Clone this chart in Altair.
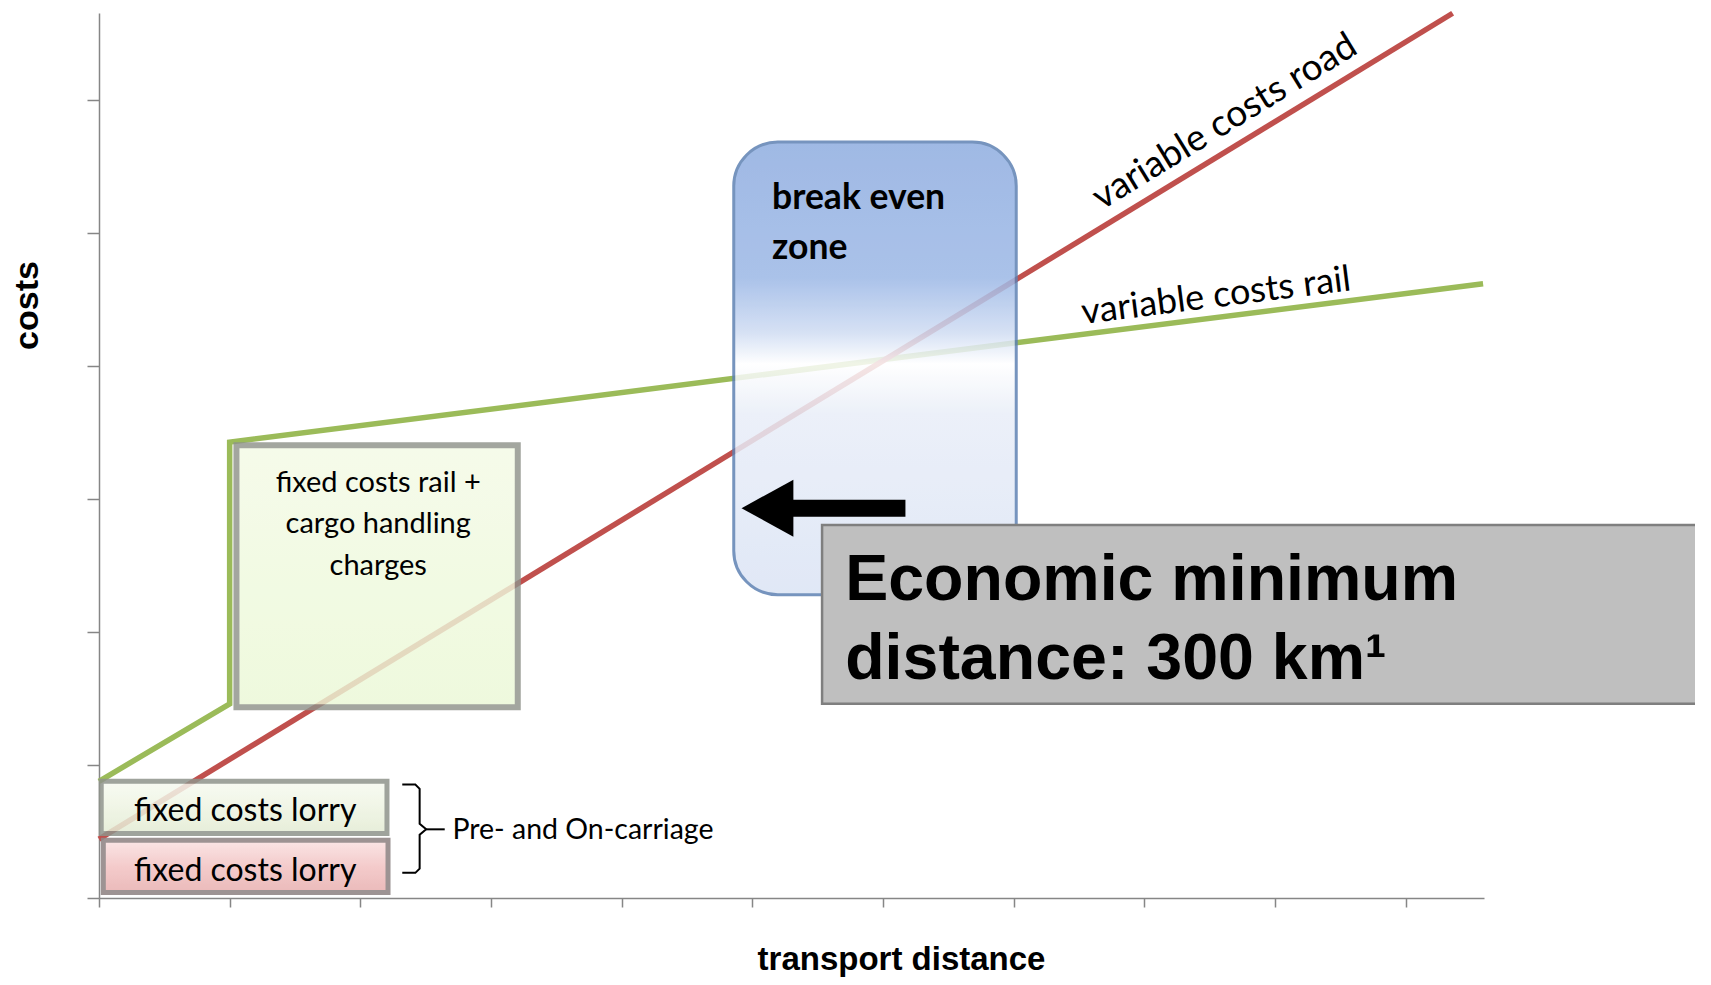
import altair as alt
import pandas as pd

# ---- axis frame (no tick labels in the original) ----
X_MAX = 10.6
Y_MAX = 6.65
x_ticks = list(range(0, 11))
y_ticks = list(range(0, 7))

# ---- cost lines ----
rail_x = [0.0, 1.0, 1.0, 10.593]
rail_y = [0.877, 1.459, 3.426, 4.615]
road_x = [0.0, 10.36]
road_y = [0.443, 6.648]

# ---- boxes (x1, x2, y1, y2) ----
rail_box = [1.052, 3.205, 1.434, 3.402]
lorry_green_box = [0.017, 2.204, 0.484, 0.877]
lorry_red_box = [0.033, 2.212, 0.041, 0.434]
zone_box = [4.858, 7.020, 2.279, 5.680]
note_box = [5.534, 12.3, 1.459, 2.803]

# ---- arrow ----
arrow_shaft_x = [5.116, 6.172]
arrow_y = 2.929
arrow_tip_x = 5.116

# ---- brace ----
brace_x = [2.321, 2.421, 2.454, 2.454, 2.504, 2.454, 2.454, 2.421, 2.321]
brace_y = [0.852, 0.852, 0.820, 0.557, 0.516, 0.475, 0.221, 0.189, 0.189]
dash_x = [2.504, 2.646]
dash_y = [0.516, 0.516]

# ---- texts ----
rail_box_text = ["fixed costs rail +", "cargo handling", "charges"]
rail_box_tx = [2.137, 2.137, 2.137]
rail_box_ty = [3.05, 2.74, 2.43]
lorry_text = ["fixed costs lorry", "fixed costs lorry"]
lorry_tx = [1.119, 1.119]
lorry_ty = [0.582, 0.131]
carriage_text = ["Pre- and On-carriage"]
carriage_tx = [2.705]
carriage_ty = [0.443]
zone_text = ["break even", "zone"]
zone_tx = [5.151, 5.151]
zone_ty = [5.177, 4.799]
note_text = ["Economic minimum", "distance: 300 km\u00b9"]
note_tx = [5.711, 5.711]
note_ty = [2.241, 1.647]
road_label = ["variable costs road"]
road_lx = [8.66]
road_ly = [5.76]
rail_label = ["variable costs rail"]
rail_lx = [8.56]
rail_ly = [4.44]

AXIS_COLOR = "#868686"
xscale = alt.Scale(domain=[0, X_MAX], nice=False, zero=False)
yscale = alt.Scale(domain=[0, Y_MAX], nice=False, zero=False)
xaxis = alt.Axis(values=x_ticks, labels=False, grid=False, tickSize=9,
                 domainColor=AXIS_COLOR, tickColor=AXIS_COLOR, domainWidth=1.5, tickWidth=1.5,
                 title="transport distance", titleFont="Liberation Sans", titleFontSize=33,
                 titleFontWeight="bold", titleColor="black", titleX=802, titleY=71,
                 titleAlign="center", titleBaseline="alphabetic")
yaxis = alt.Axis(values=y_ticks, labels=False, grid=False, tickSize=12,
                 domainColor=AXIS_COLOR, tickColor=AXIS_COLOR, domainWidth=1.5, tickWidth=1.5,
                 title="costs", titleFont="Liberation Sans", titleFontSize=34,
                 titleFontWeight="bold", titleColor="black", titleAngle=270,
                 titleX=-62, titleY=292, titleAlign="center", titleBaseline="alphabetic")


def X(field="x"):
    return alt.X(f"{field}:Q", scale=xscale, axis=xaxis)


def Y(field="y"):
    return alt.Y(f"{field}:Q", scale=yscale, axis=yaxis)


def line_layer(xs, ys, color, width):
    df = pd.DataFrame({"x": xs, "y": ys, "i": list(range(len(xs)))})
    return alt.Chart(df).mark_line(color=color, strokeWidth=width, strokeCap="butt",
                                   strokeJoin="miter").encode(x=X(), y=Y(), order="i:Q")


def box_layer(b, fill, stroke, sw, opacity=1.0, radius=0):
    df = pd.DataFrame({"x": [b[0]], "x2": [b[1]], "y": [b[2]], "y2": [b[3]]})
    return alt.Chart(df).mark_rect(fill=fill, stroke=stroke, strokeWidth=sw,
                                   opacity=opacity, cornerRadius=radius).encode(
        x=X(), x2="x2:Q", y=Y(), y2="y2:Q")


def text_layer(xs, ys, texts, **kw):
    df = pd.DataFrame({"x": xs, "y": ys, "t": texts})
    return alt.Chart(df).mark_text(baseline="alphabetic", color="black", **kw).encode(
        x=X(), y=Y(), text="t:N")


def grad(stops, vertical=True):
    return alt.Gradient(gradient="linear", x1=0, y1=0,
                        x2=0 if vertical else 1, y2=1 if vertical else 0,
                        stops=[alt.GradientStop(color=c, offset=o) for o, c in stops])


rail_line = line_layer(rail_x, rail_y, "#9bbb59", 5.5)
road_line = line_layer(road_x, road_y, "#c0504d", 5.5)

rail_box_l = box_layer(rail_box, grad([(0, "#f4fbe6"), (1, "#ebf8d6")]), "#8f938b", 6, 0.82)
lorry_g = box_layer(lorry_green_box,
                    grad([(0, "#f7faf1"), (0.5, "#eef4e2"), (1, "#e3ebd3")]), "#8f938b", 5, 0.85)
lorry_r = box_layer(lorry_red_box,
                    grad([(0, "#fbe3e3"), (0.5, "#f3c6c6"), (1, "#e9b3b3")]), "#938888", 5, 0.9)

zone_fill = grad([(0, "#8fade0"), (0.3, "#9cb8e6"), (0.42, "#cfdcf3"),
                  (0.49, "#ffffff"), (0.6, "#e9eef8"), (1, "#dbe4f5")])
zone = box_layer(zone_box, zone_fill, "#5f82b3", 3, 0.85, radius=44)

note = box_layer(note_box, "#bfbfbf", "#7f7f7f", 2.5, 1.0)

shaft_df = pd.DataFrame({"x": [arrow_shaft_x[0]], "x2": [arrow_shaft_x[1]], "y": [arrow_y]})
shaft = alt.Chart(shaft_df).mark_rule(color="black", strokeWidth=17, strokeCap="butt").encode(
    x=X(), x2="x2:Q", y=Y())
head_df = pd.DataFrame({"x": [arrow_tip_x], "y": [arrow_y]})
head = alt.Chart(head_df).mark_point(shape="M -0.91,0 L 0.91,-1 L 0.91,1 Z", size=3249,
                                     filled=True, color="black", opacity=1,
                                     strokeWidth=0).encode(x=X(), y=Y())

brace = line_layer(brace_x, brace_y, "black", 2)
dash = line_layer(dash_x, dash_y, "black", 2)

t_rail_box = text_layer(rail_box_tx, rail_box_ty, rail_box_text, font="Lato", fontSize=29,
                        align="center")
t_lorry = text_layer(lorry_tx, lorry_ty, lorry_text, font="Lato", fontSize=32, align="center")
t_carriage = text_layer(carriage_tx, carriage_ty, carriage_text, font="Lato", fontSize=28.5,
                        align="left")
t_zone = text_layer(zone_tx, zone_ty, zone_text, font="Lato", fontSize=35.5, fontWeight="bold",
                    align="left")
t_note = text_layer(note_tx, note_ty, note_text, font="Liberation Sans", fontSize=64.5,
                    fontWeight="bold", align="left")
t_road = text_layer(road_lx, road_ly, road_label, font="Lato", fontSize=37, align="center",
                    angle=328.5)
t_rail = text_layer(rail_lx, rail_ly, rail_label, font="Lato", fontSize=36, align="center",
                    angle=352.8)

chart = alt.layer(
    rail_line, road_line,
    rail_box_l, lorry_g, lorry_r, zone,
    brace, dash,
    t_rail_box, t_lorry, t_carriage, t_zone, t_road, t_rail,
    shaft, head,
    note, t_note,
).properties(
    width=1385, height=885, autosize="none",
    padding={"left": 91, "top": 5, "right": 211, "bottom": 79},
).configure_view(stroke=None)

chart.save("out.html", embed_options={"renderer": "svg", "actions": False})
